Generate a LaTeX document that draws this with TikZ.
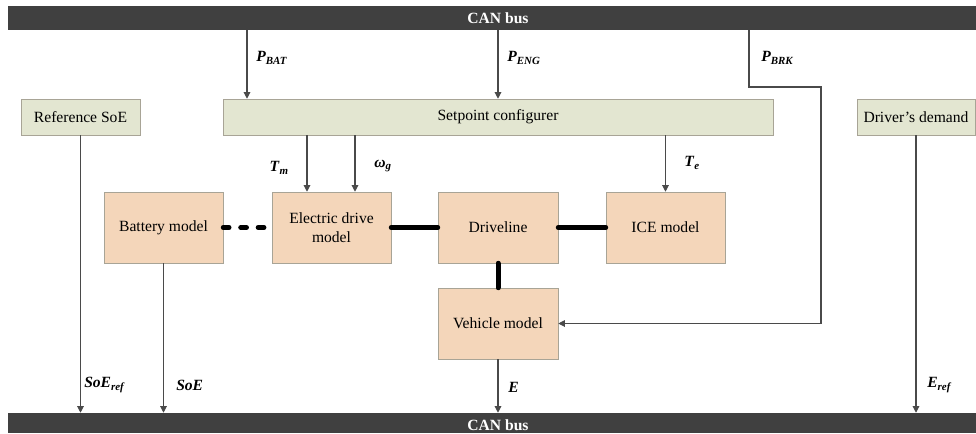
\documentclass[tikz,border=0pt]{standalone}
\usepackage{fontspec}
\setmainfont{Liberation Serif}
\usetikzlibrary{shadows,arrows.meta}

\definecolor{busgray}{HTML}{404040}
\definecolor{ctrlgreen}{HTML}{E3E6D1}
\definecolor{modelorange}{HTML}{F4D6BA}
\definecolor{boxline}{HTML}{A8A496}
\definecolor{sigline}{HTML}{4A4A4A}

\newcommand{\varlab}[2]{\textbf{\textit{#1}}\textsubscript{\textbf{\textit{#2}}}}

\begin{document}
\begin{tikzpicture}[x=0.75pt,y=-0.75pt,
    font=\fontsize{11.7}{14.25}\selectfont,
    bus/.style={fill=busgray,minimum width=726pt,inner sep=0pt},
    bustext/.style={text=white,font=\fontsize{11.7}{13}\selectfont\bfseries},
    ctrl/.style={draw=boxline,fill=ctrlgreen,minimum width=#1,minimum height=27pt,
        drop shadow={shadow xshift=1pt,shadow yshift=-1pt,fill=black!40}},
    ctrl/.default=89.25pt,
    model/.style={draw=boxline,fill=modelorange,minimum width=89.25pt,minimum height=53.25pt,
        align=center,drop shadow={shadow xshift=1pt,shadow yshift=-1pt,fill=black!40}},
    sig/.style={draw=sigline,line width=0.8pt,-{Triangle[length=5pt,width=5pt]}},
    shaft/.style={line width=3.75pt,line cap=round},
    lbl/.style={inner sep=0pt}]
    \useasboundingbox (0,0) rectangle (976,433);

    % buses
    \node[bus,minimum height=18pt] (topbus) at (492,18) {};
    \node[bustext] at (topbus.center -| 498,0) {CAN bus};
    \node[bus,minimum height=15pt] (bottombus) at (492,423) {};
    \node[bustext] at (498,425) {CAN bus};

    % blocks
    \node[ctrl] (refsoe) at (80.5,117) {Reference SoE};
    \node[ctrl=412.5pt] (setpt) at (498,117) {Setpoint configurer};
    \node[ctrl=88.5pt] (driver) at (916,117) {Driver's demand};
    \node[model] (battery) at (163.5,227.5) {Battery model};
    \node[model] (edrive) at (331.5,227.5) {Electric drive\\model};
    \node[model,minimum width=90pt] (driveline) at (498,227.5) {Driveline};
    \node[model] (ice) at (665.5,227.5) {ICE model};
    \node[model,minimum width=90pt] (vehicle) at (498,323.5) {Vehicle model};

    % mechanical links
    \draw[shaft,dash pattern=on 4.3pt off 8.8pt] (battery.east) -- (edrive.west);
    \draw[shaft] (edrive.east) -- (driveline.west);
    \draw[shaft] (driveline.east) -- (ice.west);
    \draw[shaft] (driveline.south) -- (vehicle.north);

    % signals
    \draw[sig] (topbus.south -| 247,0) -- (setpt.north -| 247,0);
    \draw[sig] (topbus.south -| setpt) -- (setpt.north);
    \draw[sig] (topbus.south -| 749,0) |- (821,87) |- (vehicle.east);
    \draw[sig] (setpt.south -| 307,0) -- (edrive.north -| 307,0);
    \draw[sig] (setpt.south -| 355,0) -- (edrive.north -| 355,0);
    \draw[sig] (setpt.south -| ice) -- (ice.north);
    \draw[sig] (refsoe.south) -- (refsoe |- bottombus.north);
    \draw[sig] (battery.south) -- (battery |- bottombus.north);
    \draw[sig] (vehicle.south) -- (vehicle |- bottombus.north);
    \draw[sig] (driver.south) -- (driver |- bottombus.north);

    \node[lbl,anchor=west] at (256,58) {\varlab{P}{BAT}};
    \node[lbl,anchor=west] at (507,58) {\varlab{P}{ENG}};
    \node[lbl,anchor=west] at (761,58) {\varlab{P}{BRK}};
    \node[lbl,anchor=east] at (289,168) {\varlab{T}{m}};
    \node[lbl,anchor=west] at (374,166) {\varlab{ω}{g}};
    \node[lbl,anchor=west] at (684,163) {\varlab{T}{e}};
    \node[lbl,anchor=west] at (84,385) {\varlab{SoE}{ref}};
    \node[lbl,anchor=west] at (176,385) {\textbf{\textit{SoE}}};
    \node[lbl,anchor=west] at (508,387) {\textbf{\textit{E}}};
    \node[lbl,anchor=west] at (927,385) {\varlab{E}{ref}};
\end{tikzpicture}
\end{document}
